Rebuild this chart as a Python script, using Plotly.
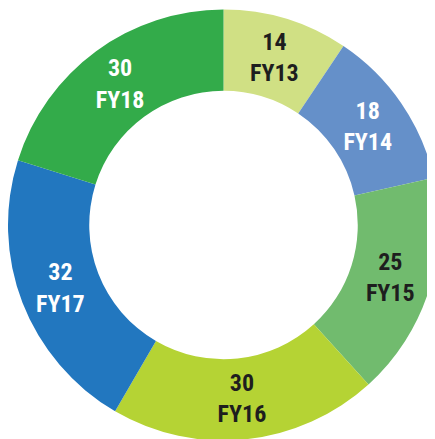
import plotly.graph_objects as go

labels = ["FY13", "FY14", "FY15", "FY16", "FY17", "FY18"]
values = [14, 18, 25, 30, 32, 30]
colors = ["#d0e084", "#6590c9", "#71bb6e", "#b5d334", "#2277bf", "#33ab4a"]
text_colors = ["#1e1e1e", "#ffffff", "#1e1e1e", "#1e1e1e", "#ffffff", "#ffffff"]

fig = go.Figure(go.Pie(
    labels=labels,
    values=values,
    hole=0.623,
    sort=False,
    direction="clockwise",
    rotation=0,
    marker=dict(colors=colors, line=dict(width=0)),
    texttemplate="%{value}<br>%{label}",
    textposition="inside",
    insidetextorientation="horizontal",
    insidetextfont=dict(family="Roboto Condensed, Liberation Sans Narrow, Roboto, sans-serif",
                        size=24, color=text_colors, weight="bold"),
    showlegend=False,
    hoverinfo="label+value",
    domain=dict(x=[0, 1], y=[0, 1]),
))

fig.update_layout(
    width=431, height=434,
    margin=dict(l=0, r=0, t=0, b=0),
    paper_bgcolor="white",
    plot_bgcolor="white",
    uniformtext=dict(minsize=24, mode="show"),
)

fig.write_html("out.html")
